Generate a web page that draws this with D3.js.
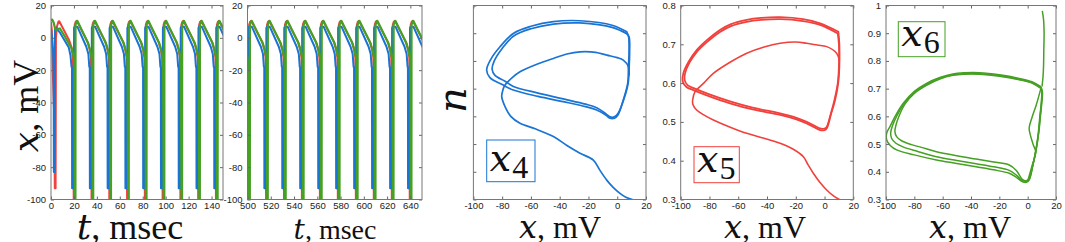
<!DOCTYPE html>
<html>
<head>
<meta charset="utf-8">
<script src="https://cdn.jsdelivr.net/npm/d3@7"></script>
<style>
  body { margin: 0; background: #fff; }
  svg { display: block; }
  .tick text { font-family: "Liberation Sans", Arial, sans-serif; font-size: 9.5px; fill: #222; }
  .tick line { stroke: #666; }
</style>
</head>
<body>
<svg id="chart" width="1065" height="242"></svg>
<script>
// tick values
const tTicks1 = [0, 20, 40, 60, 80, 100, 120, 140];
const tTicks2 = [500, 520, 540, 560, 580, 600, 620, 640];
const vTicks = [-100, -80, -60, -40, -20, 0, 20];
const xPhaseTicks = [-100, -80, -60, -40, -20, 0, 20];
const nTicks4 = [0.1, 0.2, 0.3, 0.4, 0.5, 0.6, 0.7, 0.8];
const nTicks5 = [0.3, 0.4, 0.5, 0.6, 0.7, 0.8];
const nTicks6 = [0.3, 0.4, 0.5, 0.6, 0.7, 0.8, 0.9, 1];

// voltage traces, [t msec, x mV] (0-150 msec)
const blue1 = [[0,5.3],[1,0],[1.8,-7.5],[2.3,-20],[2.5,-83],[3.2,-83],[3.5,5.8],[4.3,6.3],[8,3],[15.5,-6],[17,-11],[17.9,-18],
  [18.3,-18],[18.4,-93],[19.9,-93],[20.1,6],[20.5,6.8],[23.1,6.8],[30.8,-5.5],[32.6,-10],[33.4,-18],
  [33.8,-18],[33.9,-93],[35.4,-93],[35.6,6],[36.0,6.8],[38.6,6.8],[46.3,-5.5],[48.1,-10],[48.9,-18],
  [49.3,-18],[49.4,-93],[50.9,-93],[51.1,6],[51.5,6.8],[54.1,6.8],[61.8,-5.5],[63.6,-10],[64.4,-18],
  [64.8,-18],[64.9,-93],[66.4,-93],[66.6,6],[67.0,6.8],[69.6,6.8],[77.3,-5.5],[79.1,-10],[79.9,-18],
  [80.3,-18],[80.4,-93],[81.9,-93],[82.1,6],[82.5,6.8],[85.1,6.8],[92.8,-5.5],[94.6,-10],[95.4,-18],
  [95.8,-18],[95.9,-93],[97.4,-93],[97.6,6],[98.0,6.8],[100.6,6.8],[108.3,-5.5],[110.1,-10],[110.9,-18],
  [111.3,-18],[111.4,-93],[112.9,-93],[113.1,6],[113.5,6.8],[116.1,6.8],[123.8,-5.5],[125.6,-10],[126.4,-18],
  [126.8,-18],[126.9,-93],[128.4,-93],[128.6,6],[129.0,6.8],[131.6,6.8],[139.3,-5.5],[141.1,-10],[141.9,-18],
  [142.3,-18],[142.4,-93],[143.9,-93],[144.1,6],[144.5,6.8],[147.1,6.8],[154.8,-5.5]];
const red1 = [[0,9.5],[0.7,5],[1.5,-20],[2.4,-40],[2.9,-48],[3.3,-93],[4.0,-93],[4.3,0],[5.2,7],[6.5,10],[7.2,10.3],[15.5,-1],[17.8,-5.5],[19.0,-12],
  [19.9,-110],[20.6,-110],[20.7,8],[21.6,10],[22.5,10.5],[31.9,-2.5],[33.7,-7],[34.9,-12],
  [35.4,-110],[36.1,-110],[36.2,8],[37.1,10],[38.0,10.5],[47.4,-2.5],[49.2,-7],[50.4,-12],
  [50.9,-110],[51.6,-110],[51.7,8],[52.6,10],[53.5,10.5],[62.9,-2.5],[64.7,-7],[65.9,-12],
  [66.4,-110],[67.1,-110],[67.2,8],[68.1,10],[69.0,10.5],[78.4,-2.5],[80.2,-7],[81.4,-12],
  [81.9,-110],[82.6,-110],[82.7,8],[83.6,10],[84.5,10.5],[93.9,-2.5],[95.7,-7],[96.9,-12],
  [97.4,-110],[98.1,-110],[98.2,8],[99.1,10],[100.0,10.5],[109.4,-2.5],[111.2,-7],[112.4,-12],
  [112.9,-110],[113.6,-110],[113.7,8],[114.6,10],[115.5,10.5],[124.9,-2.5],[126.7,-7],[127.9,-12],
  [128.4,-110],[129.1,-110],[129.2,8],[130.1,10],[131.0,10.5],[140.4,-2.5],[142.2,-7],[143.4,-12],
  [143.9,-110],[144.6,-110],[144.7,8],[145.6,10],[146.5,10.5],[155.9,-2.5]];
const green1 = [[0,11],[1.0,11.3],[2.3,9.5],[3.5,6],[4.6,4.5],[6,5.5],[7.8,5.8],[12.2,0.7],[18,-6.5],[19.4,-10],[20.3,-14],
  [20.9,-110],[21.3,-110],[21.4,8],[22.2,10],[23.0,10.5],[32.5,-3.5],[34.3,-8],[35.7,-13],
  [36.4,-110],[36.8,-110],[36.9,8],[37.7,10],[38.5,10.5],[48.0,-3.5],[49.8,-8],[51.2,-13],
  [51.9,-110],[52.3,-110],[52.4,8],[53.2,10],[54.0,10.5],[63.5,-3.5],[65.3,-8],[66.7,-13],
  [67.4,-110],[67.8,-110],[67.9,8],[68.7,10],[69.5,10.5],[79.0,-3.5],[80.8,-8],[82.2,-13],
  [82.9,-110],[83.3,-110],[83.4,8],[84.2,10],[85.0,10.5],[94.5,-3.5],[96.3,-8],[97.7,-13],
  [98.4,-110],[98.8,-110],[98.9,8],[99.7,10],[100.5,10.5],[110.0,-3.5],[111.8,-8],[113.2,-13],
  [113.9,-110],[114.3,-110],[114.4,8],[115.2,10],[116.0,10.5],[125.5,-3.5],[127.3,-8],[128.7,-13],
  [129.4,-110],[129.8,-110],[129.9,8],[130.7,10],[131.5,10.5],[141.0,-3.5],[142.8,-8],[144.2,-13],
  [144.9,-110],[145.3,-110],[145.4,8],[146.2,10],[147.0,10.5],[156.5,-3.5]];

// voltage traces 500-650 msec
const blue2 = [[499.0,-18],[499.1,-93],[500.6,-93],[500.8,6],[501.2,6.8],[503.8,6.8],[511.5,-5.5],[513.3,-10],[514.1,-18],
  [514.4,-18],[514.5,-93],[516.0,-93],[516.2,6],[516.6,6.8],[519.2,6.8],[526.9,-5.5],[528.7,-10],[529.5,-18],
  [529.8,-18],[529.9,-93],[531.4,-93],[531.6,6],[532.0,6.8],[534.6,6.8],[542.3,-5.5],[544.1,-10],[544.9,-18],
  [545.2,-18],[545.3,-93],[546.8,-93],[547.0,6],[547.4,6.8],[550.0,6.8],[557.7,-5.5],[559.5,-10],[560.3,-18],
  [560.7,-18],[560.8,-93],[562.3,-93],[562.5,6],[562.9,6.8],[565.5,6.8],[573.2,-5.5],[575.0,-10],[575.8,-18],
  [576.1,-18],[576.2,-93],[577.7,-93],[577.9,6],[578.3,6.8],[580.9,6.8],[588.6,-5.5],[590.4,-10],[591.2,-18],
  [591.6,-18],[591.7,-93],[593.2,-93],[593.4,6],[593.8,6.8],[596.4,6.8],[604.1,-5.5],[605.9,-10],[606.7,-18],
  [607.0,-18],[607.1,-93],[608.6,-93],[608.8,6],[609.2,6.8],[611.8,6.8],[619.5,-5.5],[621.3,-10],[622.1,-18],
  [622.5,-18],[622.6,-93],[624.1,-93],[624.3,6],[624.7,6.8],[627.3,6.8],[635.0,-5.5],[636.8,-10],[637.6,-18],
  [637.9,-18],[638.0,-93],[639.5,-93],[639.7,6],[640.1,6.8],[642.7,6.8],[650.4,-5.5]];
const red2 = [[499.5,-12],
  [500.6,-110],[501.3,-110],[501.4,8],[502.3,10],[503.2,10.5],[512.6,-2.5],[514.4,-7],[515.6,-12],
  [516.0,-110],[516.7,-110],[516.8,8],[517.7,10],[518.6,10.5],[528.0,-2.5],[529.8,-7],[531.0,-12],
  [531.4,-110],[532.1,-110],[532.2,8],[533.1,10],[534.0,10.5],[543.4,-2.5],[545.2,-7],[546.4,-12],
  [546.8,-110],[547.5,-110],[547.6,8],[548.5,10],[549.4,10.5],[558.8,-2.5],[560.6,-7],[561.8,-12],
  [562.3,-110],[563.0,-110],[563.1,8],[564.0,10],[564.9,10.5],[574.3,-2.5],[576.1,-7],[577.3,-12],
  [577.7,-110],[578.4,-110],[578.5,8],[579.4,10],[580.3,10.5],[589.7,-2.5],[591.5,-7],[592.7,-12],
  [593.2,-110],[593.9,-110],[594.0,8],[594.9,10],[595.8,10.5],[605.2,-2.5],[607.0,-7],[608.2,-12],
  [608.6,-110],[609.3,-110],[609.4,8],[610.3,10],[611.2,10.5],[620.6,-2.5],[622.4,-7],[623.6,-12],
  [624.1,-110],[624.8,-110],[624.9,8],[625.8,10],[626.7,10.5],[636.1,-2.5],[637.9,-7],[639.1,-12],
  [639.5,-110],[640.2,-110],[640.3,8],[641.2,10],[642.1,10.5],[651.5,-2.5]];
const green2 = [[500,-12],
  [501.6,-110],[502.0,-110],[502.1,8],[502.9,10],[503.7,10.5],[513.2,-3.5],[515.0,-8],[516.4,-13],
  [517.0,-110],[517.4,-110],[517.5,8],[518.3,10],[519.1,10.5],[528.6,-3.5],[530.4,-8],[531.8,-13],
  [532.4,-110],[532.8,-110],[532.9,8],[533.7,10],[534.5,10.5],[544.0,-3.5],[545.8,-8],[547.2,-13],
  [547.8,-110],[548.2,-110],[548.3,8],[549.1,10],[549.9,10.5],[559.4,-3.5],[561.2,-8],[562.6,-13],
  [563.3,-110],[563.7,-110],[563.8,8],[564.6,10],[565.4,10.5],[574.9,-3.5],[576.7,-8],[578.1,-13],
  [578.7,-110],[579.1,-110],[579.2,8],[580.0,10],[580.8,10.5],[590.3,-3.5],[592.1,-8],[593.5,-13],
  [594.2,-110],[594.6,-110],[594.7,8],[595.5,10],[596.3,10.5],[605.8,-3.5],[607.6,-8],[609.0,-13],
  [609.6,-110],[610.0,-110],[610.1,8],[610.9,10],[611.7,10.5],[621.2,-3.5],[623.0,-8],[624.4,-13],
  [625.1,-110],[625.5,-110],[625.6,8],[626.4,10],[627.2,10.5],[636.7,-3.5],[638.5,-8],[639.9,-13],
  [640.5,-110],[640.9,-110],[641.0,8],[641.8,10],[642.6,10.5],[652.1,-3.5]];

// phase portraits, [x mV, n]
const x4Loop1 = [[6.6,0.705],[-3,0.728],[-25.9,0.745],[-44.4,0.742],[-60,0.725],[-72,0.7],[-81.5,0.651],[-88,0.605],[-90.8,0.567],[-88.5,0.54],[-80,0.515],[-72.2,0.495],[-55,0.472],[-37.5,0.453],[-22,0.435],[-14.3,0.423],[-8,0.405],[-5,0.393],[-2,0.393],[0.5,0.405],[4.2,0.459],[7.3,0.52],[7.8,0.58],[8.2,0.627],[7.9,0.687],[6.6,0.705]];
const x4Loop2 = [[6.6,0.698],[-3,0.72],[-25.9,0.737],[-44.4,0.733],[-60,0.716],[-72,0.69],[-80,0.645],[-85.5,0.6],[-87,0.57],[-85,0.548],[-78,0.527],[-72.2,0.508],[-55,0.484],[-37.5,0.463],[-22,0.444],[-14.3,0.431],[-8,0.41],[-5,0.398],[-2,0.398],[0.5,0.41],[4.5,0.46],[7.6,0.52],[8.3,0.58],[8.6,0.627],[8.2,0.687],[6.6,0.698]];
const x4Trans = [[10.5,0.1],[6,0.108],[1.9,0.122],[-3,0.145],[-7.3,0.17],[-12,0.205],[-16.6,0.242],[-25.9,0.267],[-35,0.295],[-44.4,0.327],[-57,0.355],[-67.6,0.375],[-74,0.4],[-78,0.435],[-80.3,0.471],[-79.5,0.495],[-78,0.513],[-73,0.54],[-67.6,0.561],[-55,0.59],[-44.4,0.609],[-35,0.625],[-25.9,0.633],[-15,0.631],[-7.3,0.621],[0,0.612],[4.2,0.603],[7.7,0.58],[8.3,0.55]];

const x5Loop1 = [[9.6,0.7325],[-3.1,0.754],[-15,0.765],[-30.9,0.77],[-44,0.768],[-54.1,0.763],[-65,0.752],[-72.7,0.737],[-82,0.71],[-88.9,0.685],[-94.5,0.655],[-98.2,0.625],[-98.6,0.604],[-96,0.59],[-91.2,0.582],[-80,0.566],[-65.7,0.548],[-50,0.532],[-30.9,0.518],[-20,0.507],[-12.4,0.496],[-6,0.484],[-3.1,0.479],[0,0.479],[1.5,0.483],[4.5,0.52],[7.3,0.556],[9.5,0.6],[10.3,0.642],[10.3,0.7],[9.6,0.7325]];
const x5Loop2 = [[9.2,0.728],[-3.1,0.75],[-15,0.76],[-30.9,0.765],[-44,0.763],[-54.1,0.758],[-65,0.747],[-72.7,0.732],[-82,0.705],[-88.9,0.68],[-94,0.652],[-97,0.625],[-97.2,0.607],[-95,0.594],[-91,0.587],[-80,0.571],[-65.7,0.553],[-50,0.537],[-30.9,0.522],[-20,0.511],[-12.4,0.5],[-6,0.488],[-3.1,0.483],[0,0.483],[1.5,0.487],[4.5,0.523],[7,0.558],[9.2,0.6],[10,0.642],[10,0.7],[9.2,0.728]];
const x5Trans = [[10.3,0.3],[6,0.31],[1.5,0.3245],[-3,0.343],[-7.8,0.3675],[-11.5,0.39],[-14.7,0.41],[-22,0.43],[-30.9,0.445],[-42,0.458],[-54.1,0.4706],[-66,0.487],[-77.3,0.505],[-84,0.518],[-88.9,0.5307],[-91.5,0.545],[-91.7,0.5565],[-90,0.578],[-84,0.6],[-77.3,0.625],[-66,0.653],[-54.1,0.677],[-42,0.693],[-30.9,0.7026],[-20,0.706],[-12.4,0.7026],[-5,0.698],[1.5,0.694],[8.4,0.677],[10.3,0.66]];

const x6Loop1 = [[9.3,0.707],[3,0.725],[-6,0.737],[-20,0.75],[-34,0.7575],[-45,0.757],[-52.8,0.753],[-62,0.74],[-71.4,0.719],[-80,0.69],[-87.8,0.647],[-93,0.605],[-97.2,0.563],[-99.5,0.54],[-99.5,0.515],[-97,0.495],[-92.5,0.479],[-80,0.461],[-64.4,0.4425],[-50,0.43],[-36.4,0.418],[-24,0.407],[-13,0.3945],[-8,0.38],[-3.6,0.364],[-1,0.362],[1.05,0.37],[3.5,0.42],[5.8,0.479],[7.5,0.54],[8.6,0.599],[9.6,0.65],[10,0.695],[9.3,0.707]];
const x6Loop2 = [[9.3,0.704],[3,0.722],[-6,0.734],[-20,0.747],[-34,0.754],[-45,0.754],[-52.8,0.75],[-62,0.737],[-71.4,0.715],[-80,0.686],[-87.3,0.645],[-92,0.605],[-95.5,0.565],[-96.7,0.54],[-96,0.52],[-93,0.503],[-88,0.49],[-78,0.474],[-64.4,0.4545],[-50,0.441],[-36.4,0.429],[-24,0.418],[-13,0.405],[-8,0.388],[-3.6,0.368],[-1,0.366],[1.05,0.374],[3.7,0.425],[6,0.482],[7.7,0.54],[8.8,0.6],[9.8,0.65],[10.2,0.69],[9.3,0.704]];
const x6Loop3 = [[9.3,0.701],[3,0.72],[-6,0.732],[-20,0.745],[-34,0.752],[-45,0.752],[-52.8,0.748],[-62,0.735],[-71.4,0.712],[-80,0.683],[-86.5,0.645],[-90.5,0.605],[-93,0.568],[-93.7,0.545],[-92.5,0.527],[-89,0.512],[-82,0.498],[-75,0.488],[-64.4,0.4725],[-50,0.458],[-36.4,0.446],[-24,0.435],[-13,0.4244],[-8,0.405],[-3.6,0.372],[-1,0.368],[1.05,0.376],[3.9,0.43],[6.2,0.485],[7.9,0.545],[9,0.6],[10,0.65],[10.4,0.688],[9.3,0.701]];
const x6Notch = [[9.3,0.7],[6,0.64],[3,0.595],[1.05,0.557],[2.2,0.527],[4,0.497],[5.7,0.472],[3,0.42],[0.5,0.375]];
const x6Trans = [[10.4,0.978],[11.2,0.95],[11.6,0.9],[11.4,0.84],[11.2,0.78],[10.8,0.74],[10.2,0.71]];

const BLUE = "#1a74d4", RED = "#f0413d", GREEN = "#45a023";
const SERIF = "'Liberation Serif', 'DejaVu Serif', 'Times New Roman', serif";
const SERIF_IT = "'DejaVu Serif', 'Liberation Serif', serif";

const svg = d3.select("#chart");
svg.append("rect").attr("width", 1065).attr("height", 242).attr("fill", "#fff");

const fmt = (d) => String(d);
let clipId = 0;

function makePanel(left, right, xdom, ydom, xt, yt, showY) {
  const top = 5.5, bottom = 199.5;
  const x = d3.scaleLinear().domain(xdom).range([left, right]);
  const y = d3.scaleLinear().domain(ydom).range([bottom, top]);
  const id = "clip" + (clipId++);
  svg.append("clipPath").attr("id", id)
    .append("rect").attr("x", left).attr("y", top)
    .attr("width", right - left).attr("height", bottom - top);
  const plot = svg.append("g").attr("clip-path", `url(#${id})`);

  const ax = svg.append("g");
  ax.append("g").attr("transform", `translate(0,${bottom})`)
    .call(d3.axisBottom(x).tickValues(xt).tickSize(-3).tickPadding(3).tickFormat(fmt));
  ax.append("g").attr("transform", `translate(0,${top})`)
    .call(d3.axisTop(x).tickValues(xt).tickSize(-3).tickFormat(""));
  ax.append("g").attr("transform", `translate(${left},0)`)
    .call(d3.axisLeft(y).tickValues(yt).tickSize(-3).tickPadding(5).tickFormat(showY ? fmt : ""));
  ax.append("g").attr("transform", `translate(${right},0)`)
    .call(d3.axisRight(y).tickValues(yt).tickSize(-3).tickFormat(""));
  ax.selectAll(".domain").remove();
  ax.append("rect").attr("x", left).attr("y", top)
    .attr("width", right - left).attr("height", bottom - top)
    .attr("fill", "none").attr("stroke", "#777").attr("stroke-width", 1);
  return { x, y, plot, left, right };
}

function trace(p, data, color, w, curve) {
  const line = d3.line().x((d) => p.x(d[0])).y((d) => p.y(d[1]));
  if (curve) line.curve(d3.curveCatmullRom.alpha(0.5));
  p.plot.append("path").datum(data).attr("d", line)
    .attr("fill", "none").attr("stroke", color).attr("stroke-width", w)
    .attr("stroke-linejoin", "round").attr("stroke-linecap", "round");
}

function label(x, y, size, parts, rotate) {
  const t = svg.append("text")
    .attr("text-anchor", "middle")
    .style("font-family", SERIF).style("font-size", size + "px").style("fill", "#111")
    .attr("transform", `translate(${x},${y})` + (rotate ? " rotate(-90)" : ""));
  parts.forEach(([s, italic]) => {
    const ts = t.append("tspan").text(s);
    if (italic) ts.style("font-style", "italic").style("font-family", SERIF_IT);
  });
}

function legendBox(x0, y0, w, h, color, sub) {
  svg.append("rect").attr("x", x0).attr("y", y0).attr("width", w).attr("height", h)
    .attr("fill", "#fff").attr("stroke", color).attr("stroke-width", 1);
  const t = svg.append("text").style("font-family", SERIF).style("fill", "#111")
    .attr("x", x0 + 3).attr("y", y0 + h - 11);
  t.append("tspan").style("font-style", "italic").style("font-family", SERIF_IT)
    .style("font-size", "38px").text("x");
  t.append("tspan").style("font-size", "32px").attr("dy", 7).attr("dx", 1).text(sub);
}

// time panels
const p1 = makePanel(51, 223, [0, 150], [-100, 20], tTicks1, vTicks, true);
trace(p1, red1, RED, 2);
trace(p1, blue1, BLUE, 2);
trace(p1, green1, GREEN, 2.2);

const p2 = makePanel(247.5, 422, [500, 650], [-100, 20], tTicks2, vTicks, true);
trace(p2, red2, RED, 2);
trace(p2, blue2, BLUE, 2);
trace(p2, green2, GREEN, 2.2);

// phase panels
const p3 = makePanel(473.4, 646, [-100, 20], [0.1, 0.8], xPhaseTicks, nTicks4, false);
trace(p3, x4Loop1, BLUE, 1.7, true);
trace(p3, x4Loop2, BLUE, 1.7, true);
trace(p3, x4Trans, BLUE, 1.7, true);

const p4 = makePanel(680.7, 853.3, [-100, 20], [0.3, 0.8], xPhaseTicks, nTicks5, true);
trace(p4, x5Loop1, RED, 1.8, true);
trace(p4, x5Loop2, RED, 1.8, true);
trace(p4, x5Trans, RED, 1.6, true);

const p5 = makePanel(886, 1056, [-100, 20], [0.3, 1], xPhaseTicks, nTicks6, true);
trace(p5, x6Loop1, GREEN, 1.5, true);
trace(p5, x6Loop2, GREEN, 1.5, true);
trace(p5, x6Loop3, GREEN, 1.5, true);
trace(p5, x6Notch, GREEN, 1.5, true);
trace(p5, x6Trans, GREEN, 1.5, true);

// axis titles
label(38, 106, 36, [["x", true], [", mV", false]], true);
label(130, 239, 36, [["t", true], [", msec", false]]);
label(335, 239, 28, [["t", true], [", msec", false]]);
label(560, 238, 32, [["x", true], [", mV", false]]);
label(765, 238, 32, [["x", true], [", mV", false]]);
label(970, 238, 32, [["x", true], [", mV", false]]);
label(466, 100, 40, [["n", true]], true);

legendBox(486.7, 140, 48.3, 41.7, BLUE, "4");
legendBox(694, 146.7, 45.3, 36, RED, "5");
legendBox(898.3, 21.7, 46.7, 35, GREEN, "6");
</script>
</body>
</html>
